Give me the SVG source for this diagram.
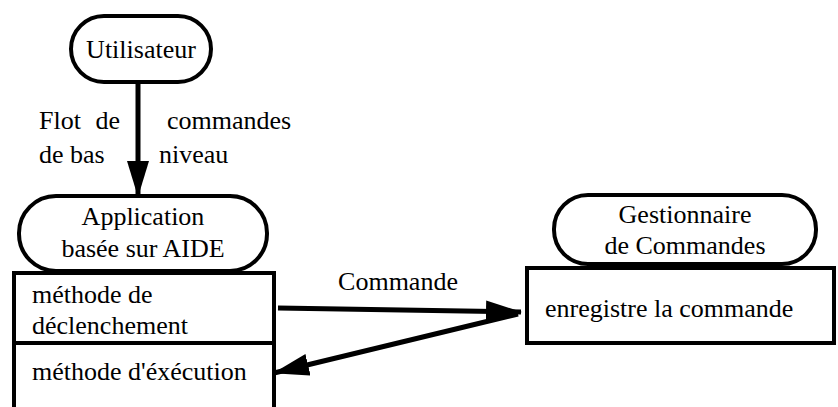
<svg xmlns="http://www.w3.org/2000/svg" width="838" height="407" viewBox="0 0 838 407">
<defs>
<style>
.pill{fill:#fff;stroke:#000;stroke-width:4}
.box{fill:#fff;stroke:#000;stroke-width:4}
text{font-family:'Liberation Serif','DejaVu Serif','Times New Roman',Times,serif;font-size:26px;fill:#000}
.c{text-anchor:middle}
.edge{stroke:#000;stroke-width:5;fill:none;marker-end:url(#ah)}
</style>
<marker id="ah" markerUnits="userSpaceOnUse" markerWidth="36" markerHeight="22" refX="35" refY="11" orient="auto">
<path d="M0,0 L36,11 L0,22 z" fill="#000"/>
</marker>
</defs>
<rect width="838" height="407" fill="#fff"/>
<g id="connectors" font-family="Liberation Serif, serif">
<line class="edge" x1="138" y1="83" x2="138" y2="196"/>
<line class="edge" x1="278" y1="308" x2="521" y2="312"/>
<line class="edge" x1="518" y1="314" x2="274" y2="373"/>
<text x="39" y="129" word-spacing="8">Flot de</text>
<text x="167" y="129">commandes</text>
<text x="39" y="163">de bas</text>
<text x="159" y="163">niveau</text>
<text class="c" x="398" y="290">Commande</text>
</g>
<g id="utilisateur">
<rect class="pill" x="71" y="16" width="140" height="66" rx="33"/>
<text class="c" x="141" y="58">Utilisateur</text>
</g>
<g id="application">
<rect class="pill" x="19" y="196" width="248" height="75" rx="37"/>
<text class="c" x="143" y="225">Application</text>
<text class="c" x="143" y="257">basée sur AIDE</text>
</g>
<g id="methodes">
<rect class="box" x="14" y="273" width="260" height="140"/>
<line x1="14" y1="343" x2="274" y2="343" stroke="#000" stroke-width="4"/>
<text x="32" y="303">méthode de</text>
<text x="32" y="334">déclenchement</text>
<text x="32" y="380">méthode d'éxécution</text>
</g>
<g id="gestionnaire">
<rect class="pill" x="554" y="195" width="262" height="69" rx="34"/>
<text class="c" x="685" y="223">Gestionnaire</text>
<text class="c" x="685" y="254">de Commandes</text>
</g>
<g id="enregistre">
<rect class="box" x="527" y="268" width="307" height="75"/>
<text x="545" y="317">enregistre la commande</text>
</g>
</svg>
